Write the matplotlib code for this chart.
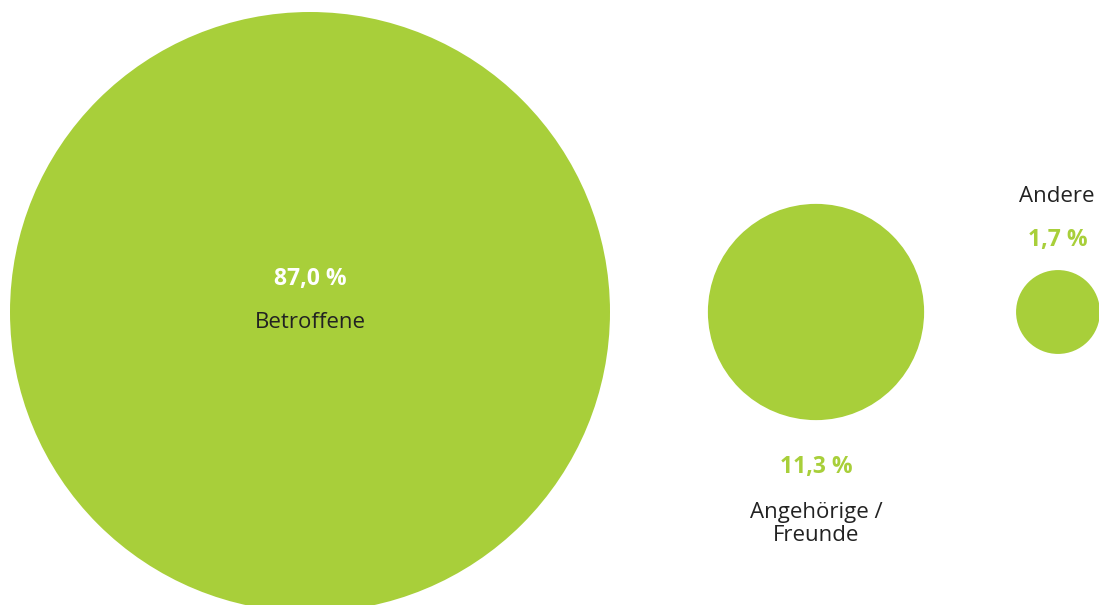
import matplotlib
matplotlib.use("Agg")
import matplotlib.pyplot as plt
from matplotlib.patches import Circle
import numpy as np

categories = ["Betroffene", "Angehörige /\nFreunde", "Andere"]
values = [87.0, 11.3, 1.7]
value_labels = ["87,0 %", "11,3 %", "1,7 %"]

GREEN = "#A8CF3A"
DARK = "#222222"

plt.rcParams['font.family'] = ['Open Sans', 'DejaVu Sans']

W, H = 1099, 605
fig = plt.figure(figsize=(W / 100, H / 100), dpi=100)
ax = fig.add_axes([0, 0, 1, 1])
ax.set_xlim(0, W)
ax.set_ylim(H, 0)
ax.set_aspect('equal')
ax.axis('off')

r_max = 300
radii = [r_max * np.sqrt(v / values[0]) for v in values]
centers_x = [310, 816, 1058]
cy = 312

for x, r in zip(centers_x, radii):
    ax.add_patch(Circle((x, cy), r, facecolor=GREEN, edgecolor='none'))

LBL = 16
VAL = 16.5

# Big circle labels (inside)
ax.text(centers_x[0], 279, value_labels[0], color='white', fontsize=VAL,
        fontweight='bold', ha='center', va='center')
ax.text(centers_x[0], 322, categories[0], color=DARK, fontsize=LBL,
        ha='center', va='center')

# Medium circle labels (below)
ax.text(centers_x[1], 467, value_labels[1], color=GREEN, fontsize=VAL,
        fontweight='bold', ha='center', va='center')
ax.text(centers_x[1], 524, categories[1], color=DARK, fontsize=LBL,
        ha='center', va='center', linespacing=1.15)

# Small circle labels (above)
ax.text(centers_x[2] - 1, 197, categories[2], color=DARK, fontsize=LBL,
        ha='center', va='center')
ax.text(centers_x[2], 240, value_labels[2], color=GREEN, fontsize=VAL,
        fontweight='bold', ha='center', va='center')

fig.savefig("out.png", dpi=100)
